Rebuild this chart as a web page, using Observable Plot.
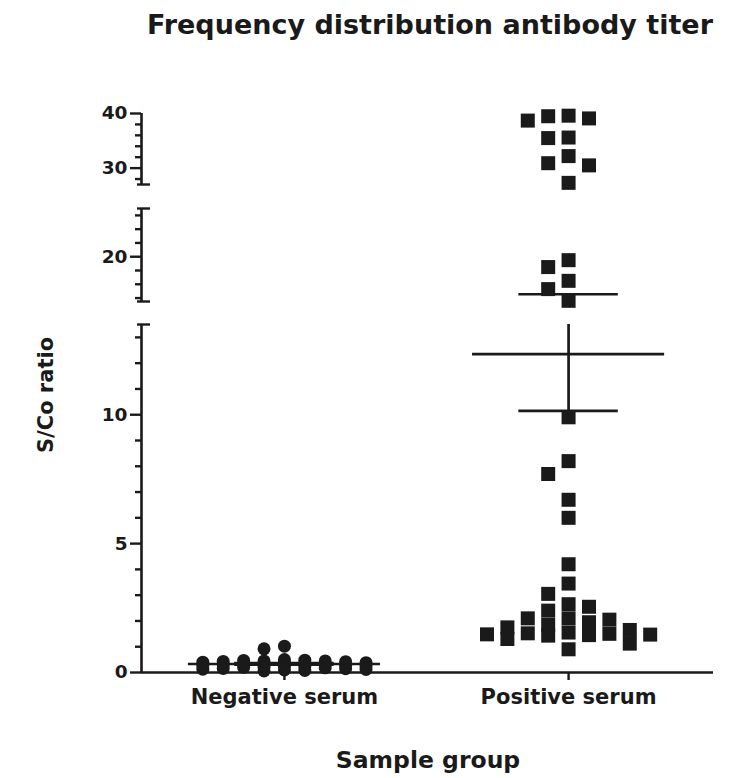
<!DOCTYPE html>
<html>
<head>
<meta charset="utf-8">
<script src="https://cdn.jsdelivr.net/npm/d3@7"></script>
<script src="https://cdn.jsdelivr.net/npm/@observablehq/plot@0.6"></script>
<style>
  body { margin: 0; background: #fff; }
  #wrap { position: relative; width: 748px; height: 778px; overflow: hidden; background: #fff;
          font-family: "DejaVu Sans", sans-serif; font-weight: bold; color: #1a1a1a; }
  .abs { position: absolute; white-space: nowrap; }
  #title { left: 430px; top: 24px; font-size: 27px; transform: translate(-50%, -50%); }
  #ylab { left: 46px; top: 395px; font-size: 21px; transform: translate(-50%, -50%) rotate(-90deg); }
  #xlab { left: 428px; top: 760px; font-size: 23.5px; transform: translate(-50%, -50%); }
  .seg { position: absolute; left: 0; }
</style>
</head>
<body>
<div id="wrap">
  <div id="title" class="abs">Frequency distribution antibody titer</div>
  <div id="ylab" class="abs">S/Co ratio</div>
  <div id="xlab" class="abs">Sample group</div>
</div>
<script>
// ---------------- data ----------------
const groups = ["Negative serum", "Positive serum"];

const negativeValues = [1.02, 0.92, 0.5, 0.48, 0.47, 0.45, 0.45, 0.43, 0.42, 0.4, 0.38, 0.36,
  0.35, 0.33, 0.32, 0.3, 0.3, 0.28, 0.27, 0.25, 0.24, 0.22, 0.2, 0.2, 0.18, 0.16, 0.15,
  0.13, 0.12, 0.1, 0.08, 0.06];

const positiveValues = [39.6, 39.5, 39.1, 38.7, 35.6, 35.5, 32.2, 30.9, 30.5, 27.3,
  19.5, 18.5, 16.5, 15.3, 13.6,
  9.9, 8.2, 7.7, 6.7, 6.0, 4.2, 3.45, 3.05, 2.65, 2.55, 2.4, 2.1, 2.1, 2.05, 1.95, 1.85,
  1.75, 1.65, 1.55, 1.52, 1.5, 1.48, 1.47, 1.45, 1.43, 1.3, 1.12, 0.9];

const groupMeans = [0.33, 12.35];
const groupSEM = [0.03, 2.2];

// broken y axis: three segments
const segDomains = [[27, 40], [13.5, 27], [0, 13.5]];
const segMajorTicks = [[30, 40], [20], [0, 5, 10]];
const segMinorTicks = [[28, 32, 34, 36, 38], [14, 16, 18, 22, 24, 26], [1, 2, 3, 4, 6, 7, 8, 9, 11, 12, 13]];

// ---------------- layout ----------------
const ink = "#1a1a1a";
const W = 748, mLeft = 141, mRight = 35;
const xDomain = [-0.503, 1.51];
const segPx = [[113, 184], [208, 301], [324, 672]]; // page y of segment top / bottom
const pxPerUnitX = (W - mLeft - mRight) / (xDomain[1] - xDomain[0]);
const slotW = 20.4 / pxPerUnitX;

function segIndex(v) {
  if (v > segDomains[1][1]) return 0;
  if (v > segDomains[2][1]) return 1;
  return 2;
}
function pageY(v) {
  const i = segIndex(v), [lo, hi] = segDomains[i], [t, b] = segPx[i];
  return b - (v - lo) / (hi - lo) * (b - t);
}

// GraphPad-like column scatter: columns of slots, avoid overlap where possible
function scatterLayout(values, gi, markerPx) {
  const slots = [0, -1, 1, -2, 2, -3, 3, -4, 4];
  const pts = values.map(v => ({v, py: pageY(v)})).sort((a, b) => b.v - a.v);
  const placed = [];
  for (const p of pts) {
    let best = 0, bestGap = -1;
    for (const s of slots) {
      const g = placed.filter(q => q.slot === s).map(q => Math.abs(q.py - p.py));
      const gap = g.length ? Math.min(...g) : Infinity;
      if (gap >= markerPx) { best = s; break; }
      if (gap > bestGap) { bestGap = gap; best = s; }
    }
    p.slot = best;
    placed.push(p);
  }
  return placed.map(p => ({group: gi, value: p.v, x: gi + p.slot * slotW, seg: segIndex(p.v)}));
}

const negPts = scatterLayout(negativeValues, 0, 12);
const posPts = scatterLayout(positiveValues, 1, 14);

const stats = groups.map((g, i) => ({
  group: i, mean: groupMeans[i], lo: groupMeans[i] - groupSEM[i], hi: groupMeans[i] + groupSEM[i]
}));
const meanHalf = 0.338, whiskHalf = 0.175;

const wrap = document.getElementById("wrap");
const mTop = 10;

segDomains.forEach((dom, i) => {
  const isBottom = i === 2;
  const mBottom = isBottom ? 50 : 10;
  const innerH = segPx[i][1] - segPx[i][0];
  const inSeg = v => v >= dom[0] && v <= dom[1];
  const axisStyle = {anchor: "left", stroke: ink, strokeWidth: 2.4, label: null};
  const caps = [dom[0], dom[1]].filter(v => v !== 0 && v !== 40);
  const marks = [
    Plot.ruleX([xDomain[0]], {y1: dom[0], y2: dom[1], stroke: ink, strokeWidth: 2.6}),
    Plot.axisY({...axisStyle, ticks: segMajorTicks[i], tickSize: 11, tickPadding: 3,
      fontSize: 18.5, fontWeight: "bold", fill: ink}),
    Plot.axisY({...axisStyle, ticks: segMinorTicks[i], tickSize: 6, tickFormat: () => ""}),
    Plot.axisY({...axisStyle, ticks: caps, tickSize: -9, tickFormat: () => ""}),
    Plot.axisY({...axisStyle, ticks: caps, tickSize: 4, tickFormat: () => ""}),
    // mean lines
    Plot.ruleY(stats.filter(d => inSeg(d.mean)), {y: "mean", x1: d => d.group - meanHalf, x2: d => d.group + meanHalf, stroke: ink, strokeWidth: 2.7}),
    // SEM whiskers
    Plot.ruleY(stats.flatMap(d => [{g: d.group, y: d.lo}, {g: d.group, y: d.hi}]).filter(d => inSeg(d.y)),
      {y: "y", x1: d => d.g - whiskHalf, x2: d => d.g + whiskHalf, stroke: ink, strokeWidth: 2.7}),
    // SEM vertical
    Plot.ruleX(stats.map(d => ({g: d.group, y1: Math.max(d.lo, dom[0]), y2: Math.min(d.hi, dom[1])})).filter(d => d.y1 < d.y2),
      {x: "g", y1: "y1", y2: "y2", stroke: ink, strokeWidth: 2.7}),
    Plot.dot(negPts.filter(d => d.seg === i), {x: "x", y: "value", r: 6.5, fill: ink, stroke: "none"}),
    Plot.dot(posPts.filter(d => d.seg === i), {x: "x", y: "value", r: 7.9, symbol: "square", fill: ink, stroke: "none"})
  ];
  if (isBottom) {
    marks.push(Plot.ruleY([0], {stroke: ink, strokeWidth: 2.6}));
    marks.push(Plot.axisX({ticks: [0, 1], tickFormat: d => groups[d], tickSize: 8, tickPadding: 9,
      stroke: ink, strokeWidth: 2.4, fontSize: 21, fontWeight: "bold", fill: ink, label: null}));
  }
  const chart = Plot.plot({
    width: W,
    height: mTop + innerH + mBottom,
    marginLeft: mLeft, marginRight: mRight, marginTop: mTop, marginBottom: mBottom,
    x: {domain: xDomain, axis: isBottom ? undefined : null},
    y: {domain: dom},
    style: {fontFamily: "DejaVu Sans, sans-serif", fontWeight: "bold", fontSize: "18px", color: ink, background: "transparent", overflow: "visible"},
    marks
  });
  chart.classList.add("seg");
  chart.style.top = (segPx[i][0] - mTop) + "px";
  wrap.appendChild(chart);
});
</script>
</body>
</html>
